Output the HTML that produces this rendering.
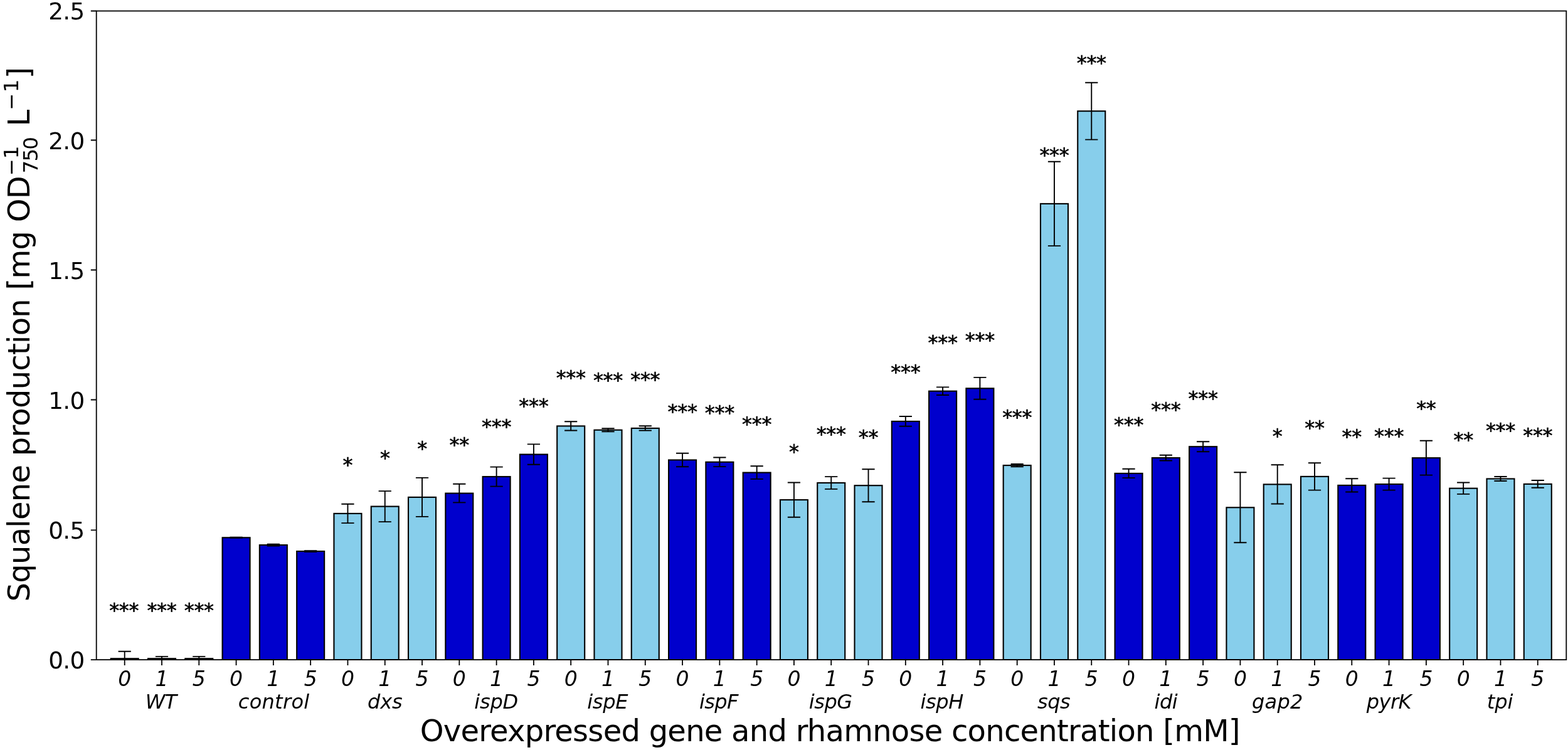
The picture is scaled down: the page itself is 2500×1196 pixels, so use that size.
<!DOCTYPE html>
<html lang="en"><head><meta charset="utf-8"><title>Squalene production</title>
<style>
html,body{margin:0;padding:0;background:#fff;}
body{width:2500px;height:1196px;overflow:hidden;}
svg{display:block;}
text{font-family:"DejaVu Sans","Liberation Sans",sans-serif;fill:#000;}
.it{font-style:oblique;}
.xt{font-size:32px;text-anchor:middle;}
.xd{font-size:33px;text-anchor:middle;}
.yt{font-size:37.33px;text-anchor:end;letter-spacing:-0.65px;}
.st{font-size:32px;text-anchor:middle;letter-spacing:-0.3px;stroke:#000;stroke-width:0.6px;}
.lb{font-size:48px;letter-spacing:-0.75px;}
.sc{font-size:32.5px;}
.ax{stroke:#000;stroke-width:1.8;fill:none;}
.eb{stroke:#000;stroke-width:1.9;fill:none;}
.bd{fill:#0000CD;stroke:#000;stroke-width:2.1;stroke-linejoin:miter;}
.bl{fill:#87CEEB;stroke:#000;stroke-width:2.1;stroke-linejoin:miter;}
</style></head><body>
<svg width="2500" height="1196" viewBox="0 0 2500 1196">
<g>
<rect x="0" y="0" width="2500" height="1196" fill="#fff"/>
<defs><clipPath id="axclip"><rect x="153.7" y="17.5" width="2343.6" height="1034.6"/></clipPath></defs>
<g clip-path="url(#axclip)">
<rect class="bl" x="176.7" y="1050.2" width="44" height="1.9"/>
<rect class="bl" x="235.99" y="1050.2" width="44" height="1.9"/>
<rect class="bl" x="295.28" y="1050.2" width="44" height="1.9"/>
<rect class="bd" x="354.57" y="857.3" width="44" height="194.8"/>
<rect class="bd" x="413.86" y="869.1" width="44" height="183"/>
<rect class="bd" x="473.15" y="879.1" width="44" height="173"/>
<rect class="bl" x="532.45" y="818.9" width="44" height="233.2"/>
<rect class="bl" x="591.74" y="807.6" width="44" height="244.5"/>
<rect class="bl" x="651.03" y="792.9" width="44" height="259.2"/>
<rect class="bd" x="710.32" y="786.6" width="44" height="265.5"/>
<rect class="bd" x="769.61" y="760.1" width="44" height="292"/>
<rect class="bd" x="828.9" y="724.6" width="44" height="327.5"/>
<rect class="bl" x="888.19" y="679.4" width="44" height="372.7"/>
<rect class="bl" x="947.48" y="685.7" width="44" height="366.4"/>
<rect class="bl" x="1006.77" y="682.9" width="44" height="369.2"/>
<rect class="bd" x="1066.07" y="733.5" width="44" height="318.6"/>
<rect class="bd" x="1125.36" y="736.8" width="44" height="315.3"/>
<rect class="bd" x="1184.65" y="753.6" width="44" height="298.5"/>
<rect class="bl" x="1243.94" y="797.1" width="44" height="255"/>
<rect class="bl" x="1303.23" y="770" width="44" height="282.1"/>
<rect class="bl" x="1362.52" y="774.2" width="44" height="277.9"/>
<rect class="bd" x="1421.81" y="671.9" width="44" height="380.2"/>
<rect class="bd" x="1481.1" y="623.7" width="44" height="428.4"/>
<rect class="bd" x="1540.39" y="619.3" width="44" height="432.8"/>
<rect class="bl" x="1599.68" y="742.1" width="44" height="310"/>
<rect class="bl" x="1658.97" y="324.9" width="44" height="727.2"/>
<rect class="bl" x="1718.27" y="177.2" width="44" height="874.9"/>
<rect class="bd" x="1777.56" y="754.9" width="44" height="297.2"/>
<rect class="bd" x="1836.85" y="730.1" width="44" height="322"/>
<rect class="bd" x="1896.14" y="712.2" width="44" height="339.9"/>
<rect class="bl" x="1955.43" y="809.3" width="44" height="242.8"/>
<rect class="bl" x="2014.72" y="772.4" width="44" height="279.7"/>
<rect class="bl" x="2074.01" y="759.9" width="44" height="292.2"/>
<rect class="bd" x="2133.3" y="773.9" width="44" height="278.2"/>
<rect class="bd" x="2192.59" y="772.1" width="44" height="280"/>
<rect class="bd" x="2251.88" y="730.2" width="44" height="321.9"/>
<rect class="bl" x="2311.18" y="778.7" width="44" height="273.4"/>
<rect class="bl" x="2370.47" y="763.5" width="44" height="288.6"/>
<rect class="bl" x="2429.76" y="771.9" width="44" height="280.2"/>
<path class="eb" d="M198.7 1038.7V1061.7M188.6 1038.7H208.8M188.6 1061.7H208.8"/>
<path class="eb" d="M257.99 1046.9V1053.5M247.89 1046.9H268.09M247.89 1053.5H268.09"/>
<path class="eb" d="M317.28 1046.9V1053.5M307.18 1046.9H327.38M307.18 1053.5H327.38"/>
<path class="eb" d="M376.57 856.8V857.8M366.47 856.8H386.67M366.47 857.8H386.67"/>
<path class="eb" d="M435.86 867.6V870.6M425.76 867.6H445.96M425.76 870.6H445.96"/>
<path class="eb" d="M495.15 878.1V880.1M485.05 878.1H505.25M485.05 880.1H505.25"/>
<path class="eb" d="M554.45 803.7V834.1M544.35 803.7H564.55M544.35 834.1H564.55"/>
<path class="eb" d="M613.74 783.1V832.1M603.64 783.1H623.84M603.64 832.1H623.84"/>
<path class="eb" d="M673.03 761.9V823.9M662.93 761.9H683.13M662.93 823.9H683.13"/>
<path class="eb" d="M732.32 771.8V801.4M722.22 771.8H742.42M722.22 801.4H742.42"/>
<path class="eb" d="M791.61 744.6V775.6M781.51 744.6H801.71M781.51 775.6H801.71"/>
<path class="eb" d="M850.9 708.4V740.8M840.8 708.4H861M840.8 740.8H861"/>
<path class="eb" d="M910.19 672.3V686.5M900.09 672.3H920.29M900.09 686.5H920.29"/>
<path class="eb" d="M969.48 683.2V688.2M959.38 683.2H979.58M959.38 688.2H979.58"/>
<path class="eb" d="M1028.77 679.3V686.5M1018.67 679.3H1038.87M1018.67 686.5H1038.87"/>
<path class="eb" d="M1088.07 722.8V744.2M1077.97 722.8H1098.16M1077.97 744.2H1098.16"/>
<path class="eb" d="M1147.36 729.5V744.1M1137.26 729.5H1157.46M1137.26 744.1H1157.46"/>
<path class="eb" d="M1206.65 743.3V763.9M1196.55 743.3H1216.75M1196.55 763.9H1216.75"/>
<path class="eb" d="M1265.94 769.5V824.7M1255.84 769.5H1276.04M1255.84 824.7H1276.04"/>
<path class="eb" d="M1325.23 760.1V779.9M1315.13 760.1H1335.33M1315.13 779.9H1335.33"/>
<path class="eb" d="M1384.52 748.2V800.2M1374.42 748.2H1394.62M1374.42 800.2H1394.62"/>
<path class="eb" d="M1443.81 664V679.8M1433.71 664H1453.91M1433.71 679.8H1453.91"/>
<path class="eb" d="M1503.1 617.4V630M1493 617.4H1513.2M1493 630H1513.2"/>
<path class="eb" d="M1562.39 601.9V636.7M1552.29 601.9H1572.49M1552.29 636.7H1572.49"/>
<path class="eb" d="M1621.68 740V744.2M1611.58 740H1631.78M1611.58 744.2H1631.78"/>
<path class="eb" d="M1680.97 257.7V392.1M1670.88 257.7H1691.07M1670.88 392.1H1691.07"/>
<path class="eb" d="M1740.27 131.8V222.6M1730.17 131.8H1750.37M1730.17 222.6H1750.37"/>
<path class="eb" d="M1799.56 747.7V762.1M1789.46 747.7H1809.66M1789.46 762.1H1809.66"/>
<path class="eb" d="M1858.85 725.7V734.5M1848.75 725.7H1868.95M1848.75 734.5H1868.95"/>
<path class="eb" d="M1918.14 704.2V720.2M1908.04 704.2H1928.24M1908.04 720.2H1928.24"/>
<path class="eb" d="M1977.43 753.3V865.3M1967.33 753.3H1987.53M1967.33 865.3H1987.53"/>
<path class="eb" d="M2036.72 741.3V803.5M2026.62 741.3H2046.82M2026.62 803.5H2046.82"/>
<path class="eb" d="M2096.01 738.2V781.6M2085.91 738.2H2106.11M2085.91 781.6H2106.11"/>
<path class="eb" d="M2155.3 763.3V784.5M2145.2 763.3H2165.4M2145.2 784.5H2165.4"/>
<path class="eb" d="M2214.59 762.6V781.6M2204.49 762.6H2224.69M2204.49 781.6H2224.69"/>
<path class="eb" d="M2273.88 702.8V757.6M2263.78 702.8H2283.98M2263.78 757.6H2283.98"/>
<path class="eb" d="M2333.18 769.5V787.9M2323.08 769.5H2343.28M2323.08 787.9H2343.28"/>
<path class="eb" d="M2392.47 760V767M2382.37 760H2402.57M2382.37 767H2402.57"/>
<path class="eb" d="M2451.76 766V777.8M2441.66 766H2461.86M2441.66 777.8H2461.86"/>
</g>
<rect class="ax" x="153.7" y="17.5" width="2343.6" height="1034.6"/>
<path class="ax" d="M198.7 1052.1v8.9M257.99 1052.1v8.9M317.28 1052.1v8.9M376.57 1052.1v8.9M435.86 1052.1v8.9M495.15 1052.1v8.9M554.45 1052.1v8.9M613.74 1052.1v8.9M673.03 1052.1v8.9M732.32 1052.1v8.9M791.61 1052.1v8.9M850.9 1052.1v8.9M910.19 1052.1v8.9M969.48 1052.1v8.9M1028.77 1052.1v8.9M1088.07 1052.1v8.9M1147.36 1052.1v8.9M1206.65 1052.1v8.9M1265.94 1052.1v8.9M1325.23 1052.1v8.9M1384.52 1052.1v8.9M1443.81 1052.1v8.9M1503.1 1052.1v8.9M1562.39 1052.1v8.9M1621.68 1052.1v8.9M1680.97 1052.1v8.9M1740.27 1052.1v8.9M1799.56 1052.1v8.9M1858.85 1052.1v8.9M1918.14 1052.1v8.9M1977.43 1052.1v8.9M2036.72 1052.1v8.9M2096.01 1052.1v8.9M2155.3 1052.1v8.9M2214.59 1052.1v8.9M2273.88 1052.1v8.9M2333.18 1052.1v8.9M2392.47 1052.1v8.9M2451.76 1052.1v8.9M153.7 1052.1h-8.9M153.7 845.4h-8.9M153.7 637.5h-8.9M153.7 430.5h-8.9M153.7 223.5h-8.9M153.7 17.5h-8.9"/>
<text class="yt" x="134.7" y="1065.86">0.0</text>
<text class="yt" x="134.7" y="858.86">0.5</text>
<text class="yt" x="134.7" y="652.26">1.0</text>
<text class="yt" x="134.7" y="444.66">1.5</text>
<text class="yt" x="134.7" y="237.96">2.0</text>
<text class="yt" x="134.7" y="30.76">2.5</text>
<text class="xd it" x="198.7" y="1094">0</text>
<text class="xd it" x="257.99" y="1094">1</text>
<text class="xd it" x="317.28" y="1094">5</text>
<text class="xd it" x="376.57" y="1094">0</text>
<text class="xd it" x="435.86" y="1094">1</text>
<text class="xd it" x="495.15" y="1094">5</text>
<text class="xd it" x="554.45" y="1094">0</text>
<text class="xd it" x="613.74" y="1094">1</text>
<text class="xd it" x="673.03" y="1094">5</text>
<text class="xd it" x="732.32" y="1094">0</text>
<text class="xd it" x="791.61" y="1094">1</text>
<text class="xd it" x="850.9" y="1094">5</text>
<text class="xd it" x="910.19" y="1094">0</text>
<text class="xd it" x="969.48" y="1094">1</text>
<text class="xd it" x="1028.77" y="1094">5</text>
<text class="xd it" x="1088.07" y="1094">0</text>
<text class="xd it" x="1147.36" y="1094">1</text>
<text class="xd it" x="1206.65" y="1094">5</text>
<text class="xd it" x="1265.94" y="1094">0</text>
<text class="xd it" x="1325.23" y="1094">1</text>
<text class="xd it" x="1384.52" y="1094">5</text>
<text class="xd it" x="1443.81" y="1094">0</text>
<text class="xd it" x="1503.1" y="1094">1</text>
<text class="xd it" x="1562.39" y="1094">5</text>
<text class="xd it" x="1621.68" y="1094">0</text>
<text class="xd it" x="1680.97" y="1094">1</text>
<text class="xd it" x="1740.27" y="1094">5</text>
<text class="xd it" x="1799.56" y="1094">0</text>
<text class="xd it" x="1858.85" y="1094">1</text>
<text class="xd it" x="1918.14" y="1094">5</text>
<text class="xd it" x="1977.43" y="1094">0</text>
<text class="xd it" x="2036.72" y="1094">1</text>
<text class="xd it" x="2096.01" y="1094">5</text>
<text class="xd it" x="2155.3" y="1094">0</text>
<text class="xd it" x="2214.59" y="1094">1</text>
<text class="xd it" x="2273.88" y="1094">5</text>
<text class="xd it" x="2333.18" y="1094">0</text>
<text class="xd it" x="2392.47" y="1094">1</text>
<text class="xd it" x="2451.76" y="1094">5</text>
<text class="xt it" style="letter-spacing:-0.8px" x="256.59" y="1130.2">WT</text>
<text class="xt it" style="letter-spacing:0.3px" x="436.61" y="1130.2">control</text>
<text class="xt it" style="letter-spacing:-0.15px" x="613.86" y="1130.2">dxs</text>
<text class="xt it" style="letter-spacing:-0.2px" x="791.21" y="1130.2">ispD</text>
<text class="xt it" style="letter-spacing:-0.3px" x="968.73" y="1130.2">ispE</text>
<text class="xt it" style="letter-spacing:-0.6px" x="1145.86" y="1130.2">ispF</text>
<text class="xt it" style="letter-spacing:-0.4px" x="1324.23" y="1130.2">ispG</text>
<text class="xt it" style="letter-spacing:-0.4px" x="1501.7" y="1130.2">ispH</text>
<text class="xt it" style="letter-spacing:-0.4px" x="1680.17" y="1130.2">sqs</text>
<text class="xt it" style="letter-spacing:-0.45px" x="1858.82" y="1130.2">idi</text>
<text class="xt it" style="letter-spacing:0.3px" x="2036.87" y="1130.2">gap2</text>
<text class="xt it" style="letter-spacing:-0.5px" x="2214.34" y="1130.2">pyrK</text>
<text class="xt it" style="letter-spacing:-0.15px" x="2391.49" y="1130.2">tpi</text>
<text class="st" x="197.7" y="983.6">***</text>
<text class="st" x="257.99" y="983.6">***</text>
<text class="st" x="317.28" y="983.6">***</text>
<text class="st" x="554.45" y="752.3">*</text>
<text class="st" x="613.74" y="741">*</text>
<text class="st" x="673.03" y="726.3">*</text>
<text class="st" x="732.32" y="720">**</text>
<text class="st" x="791.61" y="691">***</text>
<text class="st" x="850.9" y="658">***</text>
<text class="st" x="910.19" y="612.8">***</text>
<text class="st" x="969.48" y="617.3">***</text>
<text class="st" x="1028.77" y="616.3">***</text>
<text class="st" x="1088.07" y="666.9">***</text>
<text class="st" x="1147.36" y="669">***</text>
<text class="st" x="1206.65" y="687">***</text>
<text class="st" x="1265.94" y="730.5">*</text>
<text class="st" x="1325.23" y="703.4">***</text>
<text class="st" x="1384.52" y="707.6">**</text>
<text class="st" x="1443.81" y="603.5">***</text>
<text class="st" x="1503.1" y="557.1">***</text>
<text class="st" x="1562.39" y="552.7">***</text>
<text class="st" x="1621.68" y="675.5">***</text>
<text class="st" x="1680.97" y="258.3">***</text>
<text class="st" x="1740.27" y="110.6">***</text>
<text class="st" x="1799.56" y="688.3">***</text>
<text class="st" x="1858.85" y="663.5">***</text>
<text class="st" x="1918.14" y="645.6">***</text>
<text class="st" x="2036.72" y="705.8">*</text>
<text class="st" x="2096.01" y="693.3">**</text>
<text class="st" x="2155.3" y="707.3">**</text>
<text class="st" x="2214.59" y="705.5">***</text>
<text class="st" x="2273.88" y="661.8">**</text>
<text class="st" x="2333.18" y="712.1">**</text>
<text class="st" x="2392.47" y="696.9">***</text>
<text class="st" x="2451.76" y="705.3">***</text>
<text class="lb" text-anchor="start" x="669.7" y="1182.2">Overexpressed gene and rhamnose concentration [mM]</text>
<g transform="translate(46.8 956.4) rotate(-90)">
<text class="lb" x="-3" y="0">Squalene production [mg OD</text>
<text class="sc" x="676" y="-18.1">−1</text>
<text class="sc" style="letter-spacing:-1.9px" x="680" y="13.4">750</text>
<text class="lb" x="755" y="0">L</text>
<text class="sc" style="letter-spacing:1.4px" x="780.5" y="-18.1">−1</text>
<text class="lb" x="831" y="0">]</text>
</g>
</g>
</svg>
</body></html>
